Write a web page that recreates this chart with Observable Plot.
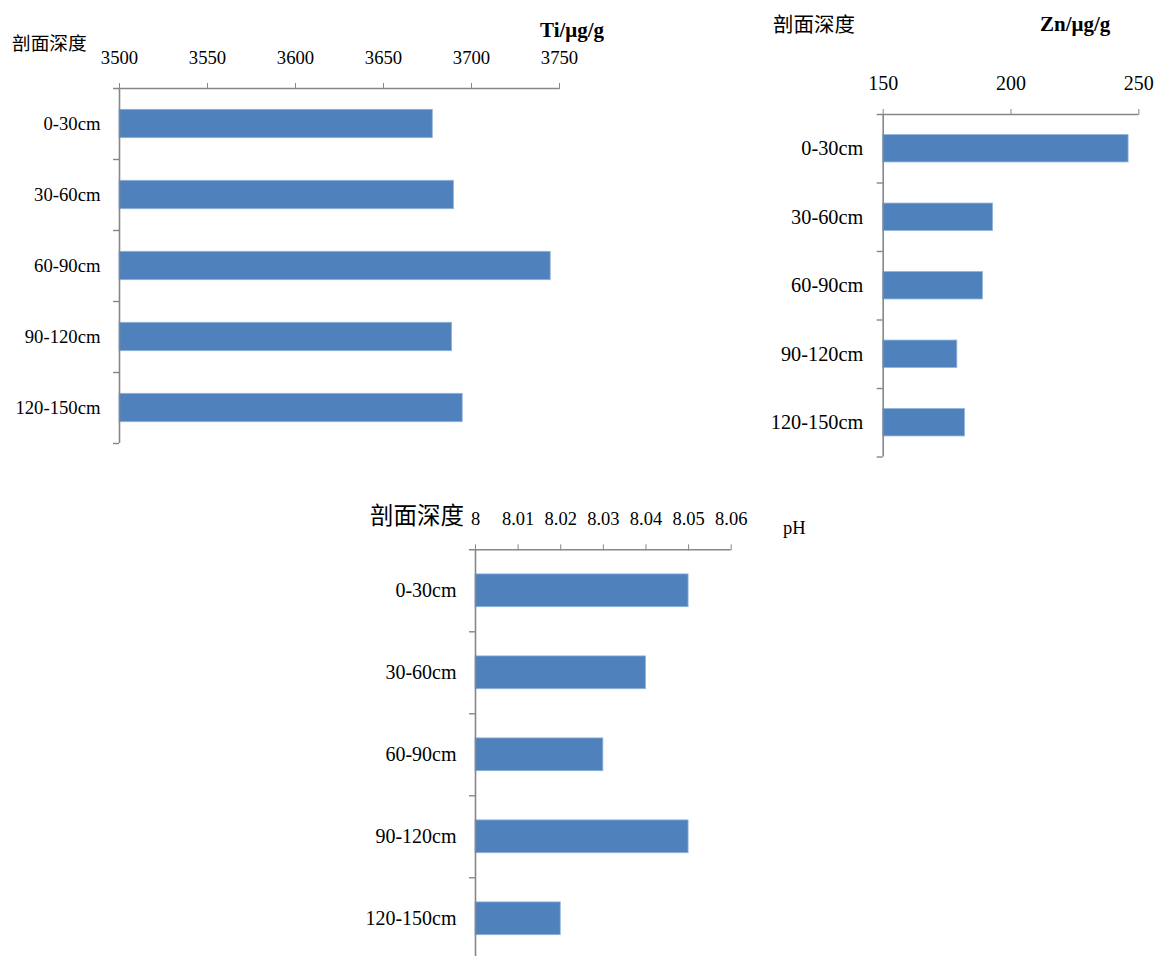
<!DOCTYPE html>
<html><head><meta charset="utf-8">
<script src="https://cdn.jsdelivr.net/npm/d3@7"></script>
<script src="https://cdn.jsdelivr.net/npm/@observablehq/plot@0.6"></script>
<style>
body{margin:0;background:#fff;}
#wrap{position:relative;width:1157px;height:956px;overflow:hidden;background:#fff;}
.chart{position:absolute;}
.lbl{position:absolute;white-space:nowrap;line-height:1;color:#000;}
.cjk{font-family:"Noto Sans CJK SC",sans-serif;}
.ser{font-family:"Liberation Serif","Times New Roman",serif;}
</style></head><body><div id="wrap"></div>
<script>
// ---- data ----
const depths = ["0-30cm", "30-60cm", "60-90cm", "90-120cm", "120-150cm"];
const tiValues = [3678, 3690, 3745, 3689, 3695];
const tiTicks = [3500, 3550, 3600, 3650, 3700, 3750];
const znValues = [246, 193, 189, 179, 182];
const znTicks = [150, 200, 250];
const phValues = [8.05, 8.04, 8.03, 8.05, 8.02];
const phTicks = [8, 8.01, 8.02, 8.03, 8.04, 8.05, 8.06];
const yTitle = "剖面深度";
const tiTitle = "Ti/μg/g";
const znTitle = "Zn/μg/g";
const phTitle = "pH";

const wrap = document.getElementById("wrap");
const axisColor = "#878787";

function makeChart(c) {
  const data = depths.map((d, i) => ({depth: d, value: c.values[i]}));
  const lo = c.ticks[0], hi = c.ticks[c.ticks.length - 1];
  const step = (c.height - c.mT - c.mB) / depths.length;
  const svg = Plot.plot({
    width: c.width, height: c.height,
    marginLeft: c.mL, marginRight: c.mR, marginTop: c.mT, marginBottom: c.mB,
    style: {fontFamily: "'Liberation Serif', 'Times New Roman', serif", color: "black", background: "transparent", overflow: "visible"},
    x: {domain: [lo, hi]},
    y: {domain: depths, paddingInner: 0.6, paddingOuter: 0.3, round: false},
    marks: [
      Plot.barX(data, {y: "depth", x1: () => lo, x2: "value", fill: "#4F81BD", stroke: "#92B3DB", strokeWidth: 0.8}),
      Plot.ruleX([lo], {stroke: axisColor, strokeWidth: 1.6}),
      Plot.ruleY([depths[0]], {dy: -step / 2, x1: () => lo, x2: () => hi, insetLeft: -6, stroke: axisColor, strokeWidth: 1.4}),
      Plot.ruleY(depths, {dy: step / 2, x1: () => lo, x2: () => lo, insetLeft: -6, stroke: axisColor, strokeWidth: 1.4}),
      Plot.axisX(c.ticks, {anchor: "top", tickSize: 6, tickPadding: c.tickPad, stroke: axisColor, fill: "black",
        fontSize: c.tickFont, label: null, tickFormat: d => String(d)}),
      Plot.axisY({anchor: "left", tickSize: 0, tickPadding: c.catPad, fill: "black", fontSize: c.catFont, label: null})
    ]
  });
  svg.classList.add("chart");
  svg.style.left = c.left + "px";
  svg.style.top = c.top + "px";
  svg.style.position = "absolute";
  wrap.appendChild(svg);
}

function addLabel(text, cls, left, top, size, bold) {
  const d = document.createElement("div");
  d.className = "lbl " + cls;
  d.textContent = text;
  d.style.left = left + "px";
  d.style.top = top + "px";
  d.style.fontSize = size + "px";
  if (bold) d.style.fontWeight = "bold";
  wrap.appendChild(d);
}

// Ti chart
makeChart({values: tiValues, ticks: tiTicks, left: 0, top: 0, width: 620, height: 460,
  mL: 119, mR: 61, mT: 88, mB: 17, tickPad: 19, catPad: 19, tickFont: 18.7, catFont: 18.7});
// Zn chart
makeChart({values: znValues, ticks: znTicks, left: 760, top: 0, width: 397, height: 470,
  mL: 122.7, mR: 18.7, mT: 114, mB: 13.5, tickPad: 19, catPad: 20, tickFont: 20, catFont: 20.3});
// pH chart
makeChart({values: phValues, ticks: phTicks, left: 330, top: 470, width: 430, height: 500,
  mL: 145, mR: 29.3, mT: 79.3, mB: 10.7, tickPad: 19, catPad: 19, tickFont: 18.5, catFont: 20});

addLabel(yTitle, "cjk", 12, 33, 18.7, false);
addLabel(tiTitle, "ser", 540, 20, 21, true);
addLabel(yTitle, "cjk", 773, 12.5, 20.5, false);
addLabel(znTitle, "ser", 1040, 13.5, 21, true);
addLabel(yTitle, "cjk", 370, 503, 23.5, false);
addLabel(phTitle, "ser", 783, 518.5, 18.5, false);
</script></body></html>
